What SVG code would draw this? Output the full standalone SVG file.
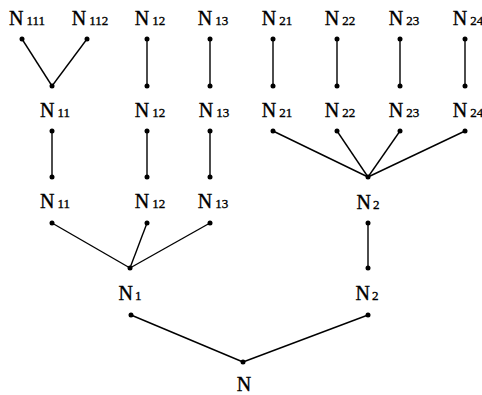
<svg xmlns="http://www.w3.org/2000/svg" width="482" height="395" viewBox="0 0 482 395">
<style>
text{font-family:"Liberation Serif","Times New Roman",serif;font-size:20px;fill:#000;stroke:#000;stroke-width:0.35;text-anchor:middle}
tspan.s{font-size:13px}
.e line{stroke:#000;stroke-width:1.4}
circle{fill:#000}
</style>
<rect width="482" height="395" fill="#fff"/>
<g id="connectors" class="e">
<line x1="22" y1="39" x2="52" y2="86"/>
<line x1="87" y1="39" x2="52" y2="86"/>
<line x1="147" y1="39" x2="147" y2="86"/>
<line x1="210" y1="39" x2="210" y2="86"/>
<line x1="273" y1="39" x2="273" y2="86"/>
<line x1="337" y1="39" x2="337" y2="86"/>
<line x1="400" y1="39" x2="400" y2="86"/>
<line x1="465" y1="39" x2="465" y2="86"/>
<line x1="52" y1="131" x2="52" y2="177"/>
<line x1="147" y1="131" x2="147" y2="177"/>
<line x1="210" y1="131" x2="210" y2="177"/>
<line x1="273" y1="131" x2="368" y2="177"/>
<line x1="337" y1="131" x2="368" y2="177"/>
<line x1="400" y1="131" x2="368" y2="177"/>
<line x1="465" y1="131" x2="368" y2="177"/>
<line x1="52" y1="223" x2="130" y2="268"/>
<line x1="147" y1="223" x2="130" y2="268"/>
<line x1="210" y1="223" x2="130" y2="268"/>
<line x1="368" y1="223" x2="368" y2="268"/>
<line x1="131" y1="315" x2="243" y2="362"/>
<line x1="368" y1="315" x2="243" y2="362"/>
</g>
<g id="dots">
<circle cx="22" cy="39" r="2.5"/><circle cx="87" cy="39" r="2.5"/><circle cx="52" cy="86" r="2.5"/>
<circle cx="147" cy="39" r="2.5"/><circle cx="147" cy="86" r="2.5"/>
<circle cx="210" cy="39" r="2.5"/><circle cx="210" cy="86" r="2.5"/>
<circle cx="273" cy="39" r="2.5"/><circle cx="273" cy="86" r="2.5"/>
<circle cx="337" cy="39" r="2.5"/><circle cx="337" cy="86" r="2.5"/>
<circle cx="400" cy="39" r="2.5"/><circle cx="400" cy="86" r="2.5"/>
<circle cx="465" cy="39" r="2.5"/><circle cx="465" cy="86" r="2.5"/>
<circle cx="52" cy="131" r="2.5"/><circle cx="52" cy="177" r="2.5"/>
<circle cx="147" cy="131" r="2.5"/><circle cx="147" cy="177" r="2.5"/>
<circle cx="210" cy="131" r="2.5"/><circle cx="210" cy="177" r="2.5"/>
<circle cx="273" cy="131" r="2.5"/><circle cx="337" cy="131" r="2.5"/><circle cx="400" cy="131" r="2.5"/><circle cx="465" cy="131" r="2.5"/><circle cx="368" cy="177" r="2.5"/>
<circle cx="52" cy="223" r="2.5"/><circle cx="147" cy="223" r="2.5"/><circle cx="210" cy="223" r="2.5"/><circle cx="130" cy="268" r="2.5"/>
<circle cx="368" cy="223" r="2.5"/><circle cx="368" cy="268" r="2.5"/>
<circle cx="131" cy="315" r="2.5"/><circle cx="368" cy="315" r="2.5"/><circle cx="243" cy="362" r="2.5"/>
</g>
<g id="n111"><text x="27" y="25">N<tspan class="s" dx="3">111</tspan></text></g>
<g id="n112"><text x="90" y="25">N<tspan class="s" dx="3">112</tspan></text></g>
<g id="n12a"><text x="150" y="25">N<tspan class="s" dx="3">12</tspan></text></g>
<g id="n13a"><text x="213" y="25">N<tspan class="s" dx="3">13</tspan></text></g>
<g id="n21a"><text x="277" y="25">N<tspan class="s" dx="3">21</tspan></text></g>
<g id="n22a"><text x="340" y="25">N<tspan class="s" dx="3">22</tspan></text></g>
<g id="n23a"><text x="404" y="25">N<tspan class="s" dx="3">23</tspan></text></g>
<g id="n24a"><text x="468" y="25">N<tspan class="s" dx="3">24</tspan></text></g>
<g id="n11b"><text x="55" y="117">N<tspan class="s" dx="3">11</tspan></text></g>
<g id="n12b"><text x="150" y="117">N<tspan class="s" dx="3">12</tspan></text></g>
<g id="n13b"><text x="214" y="117">N<tspan class="s" dx="3">13</tspan></text></g>
<g id="n21b"><text x="277" y="117">N<tspan class="s" dx="3">21</tspan></text></g>
<g id="n22b"><text x="340" y="117">N<tspan class="s" dx="3">22</tspan></text></g>
<g id="n23b"><text x="404" y="117">N<tspan class="s" dx="3">23</tspan></text></g>
<g id="n24b"><text x="468" y="117">N<tspan class="s" dx="3">24</tspan></text></g>
<g id="n11c"><text x="55" y="208">N<tspan class="s" dx="3">11</tspan></text></g>
<g id="n12c"><text x="150" y="208">N<tspan class="s" dx="3">12</tspan></text></g>
<g id="n13c"><text x="213" y="208">N<tspan class="s" dx="3">13</tspan></text></g>
<g id="n2c"><text x="368" y="209">N<tspan class="s" dx="2">2</tspan></text></g>
<g id="n1d"><text x="130" y="300">N<tspan class="s" dx="2">1</tspan></text></g>
<g id="n2d"><text x="367" y="300">N<tspan class="s" dx="2">2</tspan></text></g>
<g id="n"><text x="244" y="391">N</text></g>
</svg>
